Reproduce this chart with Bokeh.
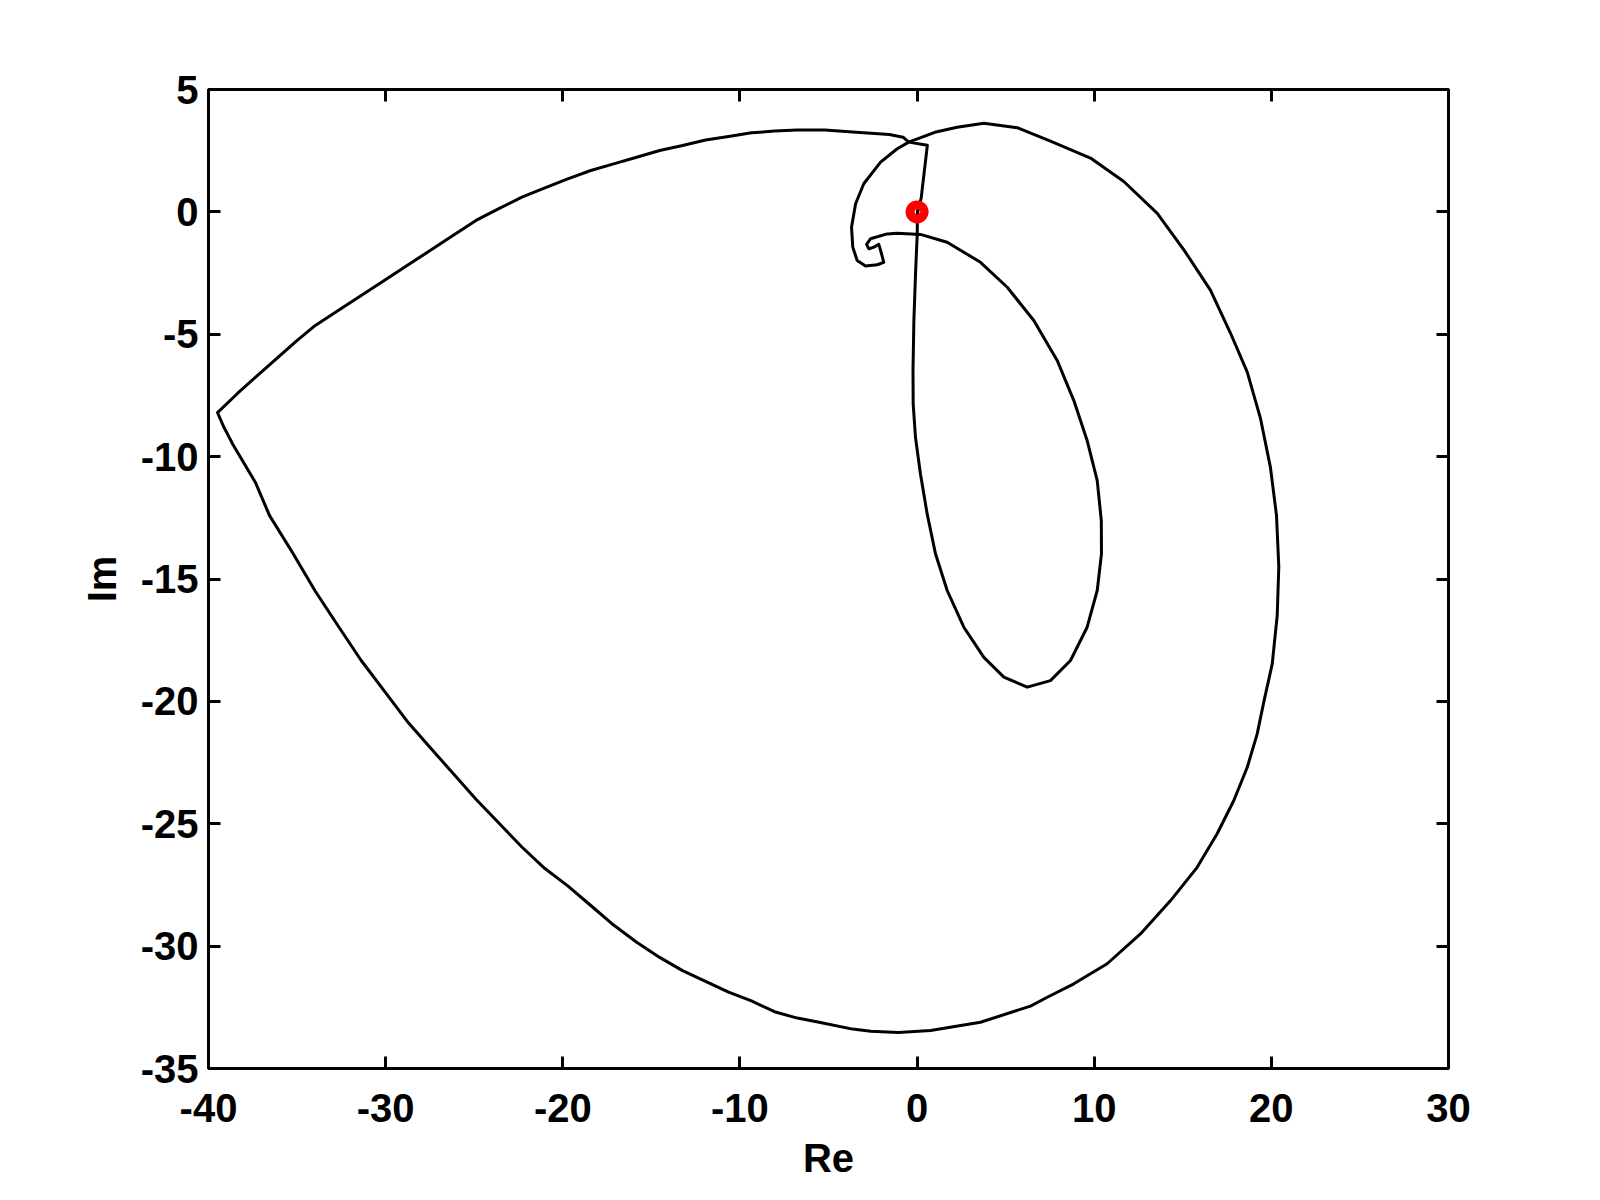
from bokeh.plotting import figure
from bokeh.models import FixedTicker, LinearAxis, Range1d, CustomLabelingPolicy
from bokeh.embed import file_html
from bokeh.resources import INLINE

# Closed Nyquist-type curve (Re, Im)
re_vals = [-0.47, 0.58, 0.23, 0.02, 0.01, -0.08, -0.18, -0.23, -0.22, -0.09, 0.19, 0.57,
           1.04, 1.70, 2.64, 3.77, 4.90, 6.22, 7.53, 8.66, 9.60, 10.17, 10.41, 10.40,
           10.17, 9.60, 8.85, 7.91, 6.59, 5.09, 3.58, 1.70, 0.19, -1.12, -1.69,
           -2.63, -2.85, -2.72, -2.44, -2.16, -2.03, -1.88, -2.25, -2.91, -3.38, -3.63,
           -3.70, -3.47, -3.01, -2.06, -1.12, -0.47,
           1.0, 2.26, 3.77, 5.65, 7.53, 9.79, 11.67, 13.56, 15.06, 16.56, 17.69, 18.64,
           19.39, 19.95, 20.29, 20.42, 20.33, 20.05, 19.58, 19.20, 18.64, 17.88, 16.94,
           15.81, 14.31, 12.61, 10.73, 8.85, 7.35, 6.40, 3.58, 0.76, -1.05, -2.61, -3.64,
           -5.46, -6.76, -8.05, -9.35, -10.64, -11.94, -13.24, -14.53, -15.83, -17.13,
           -18.42, -19.72, -21.01, -22.31, -23.61, -24.90, -26.20, -27.49, -28.79, -30.08,
           -31.38, -32.68, -33.97, -35.27, -36.56, -37.34, -38.64, -39.15, -39.49,
           -38.38, -37.34, -35.01, -33.97, -32.68, -31.38, -30.08, -28.79, -27.49, -26.20,
           -24.90, -23.61, -22.31, -21.01, -19.72, -18.42, -17.13, -15.83, -14.53, -13.24,
           -11.94, -10.64, -9.35, -8.05, -6.76, -5.20, -3.64, -1.57, -0.79, -0.47]
im_vals = [2.85, 2.72, 0.55, 0.0, -0.90, -2.40, -4.44, -6.48, -7.84, -9.21, -10.70, -12.34,
           -13.97, -15.47, -16.97, -18.20, -19.01, -19.42, -19.15, -18.33, -16.97, -15.47, -13.97, -12.61,
           -10.98, -9.34, -7.71, -6.07, -4.44, -3.08, -2.06, -1.24, -0.92, -0.87, -0.90,
           -1.10, -1.33, -1.51, -1.44, -1.33, -1.65, -2.06, -2.16, -2.21, -1.99, -1.44,
           -0.63, 0.33, 1.15, 2.03, 2.58, 2.85,
           3.25, 3.46, 3.62, 3.44, 2.89, 2.20, 1.24, -0.06, -1.55, -3.20, -4.95, -6.55,
           -8.45, -10.45, -12.40, -14.50, -16.50, -18.47, -20.0, -21.33, -22.69, -24.05, -25.41,
           -26.78, -28.14, -29.50, -30.72, -31.54, -32.09, -32.45, -33.11, -33.45, -33.53, -33.48, -33.39,
           -33.12, -32.94, -32.68, -32.24, -31.88, -31.44, -31.0, -30.46, -29.84, -29.14,
           -28.34, -27.54, -26.83, -25.95, -24.97, -24.0, -22.94, -21.88, -20.81, -19.57,
           -18.33, -16.92, -15.50, -13.91, -12.40, -11.07, -9.48, -8.77, -8.20,
           -7.43, -6.75, -5.26, -4.64, -4.03, -3.42, -2.80, -2.19, -1.58, -0.97,
           -0.35, 0.13, 0.60, 0.98, 1.35, 1.69, 1.96, 2.23, 2.51, 2.71,
           2.94, 3.08, 3.23, 3.30, 3.35, 3.35, 3.26, 3.16, 3.05, 2.85]

marker_re = [0.0]
marker_im = [0.0]

x_ticks = [-40, -30, -20, -10, 0, 10, 20, 30]
y_ticks = [-35, -30, -25, -20, -15, -10, -5, 0, 5]

FONT = "Liberation Sans"

p = figure(width=1584, height=1200,
           x_range=Range1d(-40, 30), y_range=Range1d(-35, 5),
           output_backend="svg", toolbar_location=None,
           min_border_left=208, min_border_right=136,
           min_border_top=89, min_border_bottom=132,
           background_fill_color="white", border_fill_color="white")
p.xgrid.visible = False
p.ygrid.visible = False
p.outline_line_color = "black"
p.outline_line_width = 3
p.outline_line_alpha = 1.0


def style(ax, ticks):
    ax.ticker = FixedTicker(ticks=ticks)
    ax.major_tick_in = 12
    ax.major_tick_out = 0
    ax.major_tick_line_width = 3
    ax.major_tick_line_color = "black"
    ax.minor_tick_line_color = None
    ax.axis_line_width = 3
    ax.axis_line_color = "black"
    ax.major_label_text_font = FONT
    ax.major_label_text_font_style = "bold"
    ax.major_label_text_color = "black"
    ax.major_label_text_font_size = "40px"
    ax.axis_label_text_font = FONT
    ax.axis_label_text_font_style = "bold"
    ax.axis_label_text_font_size = "40px"
    ax.axis_label_text_color = "black"


xa = p.xaxis[0]
ya = p.yaxis[0]
style(xa, x_ticks)
style(ya, y_ticks)
xa.major_label_overrides = {t: str(t) for t in x_ticks}
ya.major_label_overrides = {t: str(t) for t in y_ticks}
xa.axis_label = "Re"
ya.axis_label = "Im"
xa.major_label_standoff = 25
xa.axis_label_standoff = 11
ya.major_label_standoff = 10
ya.axis_label_standoff = 14

right_ax = LinearAxis()
style(right_ax, y_ticks)
right_ax.major_label_policy = CustomLabelingPolicy(code="for (const i of indices) indices.unset(i); return indices")
right_ax.major_label_standoff = 0
p.add_layout(right_ax, "right")
top_ax = LinearAxis()
style(top_ax, x_ticks)
top_ax.major_label_policy = CustomLabelingPolicy(code="for (const i of indices) indices.unset(i); return indices")
top_ax.major_label_standoff = 0
p.add_layout(top_ax, "above")

p.line(re_vals, im_vals, line_color="black", line_width=3, line_join="round")
p.scatter(marker_re, marker_im, marker="circle", size=14, line_color="red",
          line_width=9, fill_color=None)

open("out.html", "w").write(file_html(p, INLINE))
